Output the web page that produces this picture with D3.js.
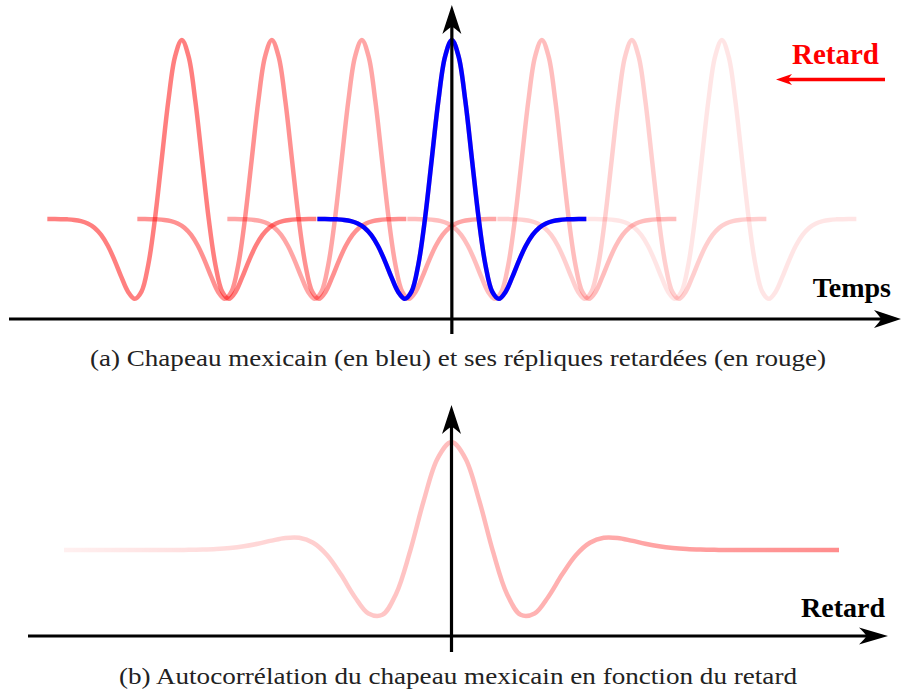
<!DOCTYPE html>
<html>
<head>
<meta charset="utf-8">
<script src="https://cdn.jsdelivr.net/npm/d3@7"></script>
<style>
  html, body { margin: 0; padding: 0; background: #fff; }
  svg { display: block; }
</style>
</head>
<body>
<svg id="chart" width="901" height="693"></svg>
<script>
// ---------- Data ----------
// Mexican hat wavelet sampled at t = 0 .. 5 (step 0.25); function is even
const hatT = [0, 0.25, 0.5, 0.75, 1, 1.25, 1.5, 1.75, 2, 2.25, 2.5, 2.75, 3, 3.25, 3.5, 3.75, 4, 4.25, 4.5, 4.75, 5];
const hatV = [1, 0.9087, 0.6619, 0.3302, 0, -0.2575, -0.4059, -0.4461, -0.4060, -0.3232, -0.2307, -0.1496, -0.0889, -0.0486, -0.0246, -0.01155, -0.0050, -0.00204, -0.00077, -0.00027, -0.00009];

// Replica delays (in multiples of the delay step) and their opacities
const replicaLags = [-3, -2, -1, 0, 1, 2, 3];
const replicaOpacity = [0.5, 0.43, 0.35, 0.3, 0.26, 0.19, 0.1];
const lagStep = 3.346;

// Autocorrelation of the Mexican hat, sampled at u = 0 .. 7 (even function)
const autoU = [0, 0.25, 0.5, 0.75, 1, 1.25, 1.5, 1.75, 2, 2.25, 2.5, 2.75, 3, 3.25, 3.5, 3.75, 4, 4.25, 4.5, 4.75, 5, 5.5, 6, 7];
const autoV = [1, 0.8493, 0.4596, -0.01474, -0.4044, -0.6003, -0.5884, -0.4323, -0.2256, -0.0463, 0.0668, 0.1126, 0.1111, 0.0868, 0.0580, 0.0343, 0.0182, 0.0088, 0.0039, 0.0016, 0.0006, 0.00007, 0, 0];

// Gradient of the autocorrelation curve opacity (left -> right)
const autoOpacityStops = [0.06, 0.26, 0.45];

// Texts
const captionA = "(a) Chapeau mexicain (en bleu) et ses répliques retardées (en rouge)";
const captionB = "(b) Autocorrélation du chapeau mexicain en fonction du retard";
const labelTime = "Temps";
const labelLag = "Retard";

// ---------- Build symmetric point sets ----------
const hatPts = [];
for (let i = hatT.length - 1; i > 0; i--) hatPts.push([-hatT[i], hatV[i]]);
for (let i = 0; i < hatT.length; i++) hatPts.push([hatT[i], hatV[i]]);

const autoPts = [];
for (let i = autoU.length - 1; i > 0; i--) autoPts.push([-autoU[i], autoV[i]]);
for (let i = 0; i < autoU.length; i++) autoPts.push([autoU[i], autoV[i]]);

// ---------- Scales ----------
const svg = d3.select("#chart");

const xTop = d3.scaleLinear().domain([-16.5, 16.66]).range([8, 900]);
const yTop = d3.scaleLinear().domain([0, 1]).range([219, 40]);

const xBot = d3.scaleLinear().domain([-7, 7]).range([64, 839]);
const yBot = d3.scaleLinear().domain([0, 1]).range([550, 442]);

// ---------- Arrow shapes ----------
const defs = svg.append("defs");
function arrowPath(len, hw) {
  return `M0,0 L${-len},${-hw} Q${-len*0.78},${-hw*0.25} ${-len*0.74},0 Q${-len*0.78},${hw*0.25} ${-len},${hw} Z`;
}

// ---------- Top panel ----------
const gTop = svg.append("g");
const hatLine = d3.line().curve(d3.curveCatmullRom.alpha(0.5));

replicaLags.forEach((lag, i) => {
  const shift = lag * lagStep;
  gTop.append("path")
    .attr("d", hatLine(hatPts.map(p => [xTop(p[0] + shift), yTop(p[1])])))
    .attr("fill", "none")
    .attr("stroke", "rgb(255,0,0)")
    .attr("stroke-opacity", replicaOpacity[i])
    .attr("stroke-width", 4.5)
    .attr("stroke-linejoin", "round");
});

gTop.append("path")
  .attr("d", hatLine(hatPts.map(p => [xTop(p[0]), yTop(p[1])])))
  .attr("fill", "none")
  .attr("stroke", "#0000ff")
  .attr("stroke-width", 4.5)
  .attr("stroke-linejoin", "round");

// axes (top)
const axY0 = 319, axX0 = xTop(0);
gTop.append("line").attr("x1", 9).attr("x2", 885).attr("y1", axY0).attr("y2", axY0)
  .attr("stroke", "#000").attr("stroke-width", 3.2);
gTop.append("path").attr("d", arrowPath(27, 9)).attr("transform", `translate(901,${axY0})`).attr("fill", "#000");
gTop.append("line").attr("x1", axX0).attr("x2", axX0).attr("y1", 334).attr("y2", 20)
  .attr("stroke", "#000").attr("stroke-width", 3.2);
gTop.append("path").attr("d", arrowPath(29, 9.5)).attr("transform", `translate(${axX0},5) rotate(-90)`).attr("fill", "#000");

gTop.append("text").attr("x", 891).attr("y", 297)
  .attr("text-anchor", "end")
  .attr("font-family", "'Liberation Serif', 'Times New Roman', serif")
  .attr("font-weight", "bold").attr("font-size", 28)
  .attr("fill", "#000").text(labelTime);

// Retard label and arrow (red)
gTop.append("text").attr("x", 879).attr("y", 64)
  .attr("text-anchor", "end")
  .attr("font-family", "'Liberation Serif', 'Times New Roman', serif")
  .attr("font-weight", "bold").attr("font-size", 29)
  .attr("fill", "#ff0000").text(labelLag);
gTop.append("line").attr("x1", 885).attr("x2", 786).attr("y1", 79.5).attr("y2", 79.5)
  .attr("stroke", "#ff0000").attr("stroke-width", 3.5);
gTop.append("path").attr("d", arrowPath(16, 5.5)).attr("transform", `translate(776,79.5) rotate(180)`).attr("fill", "#ff0000");

svg.append("text").attr("x", 458).attr("y", 366)
  .attr("text-anchor", "middle")
  .attr("font-family", "'Liberation Serif', 'DejaVu Serif', serif")
  .attr("font-size", 23).attr("fill", "#222")
  .attr("textLength", 736).attr("lengthAdjust", "spacingAndGlyphs")
  .text(captionA);

// ---------- Bottom panel ----------
const gBot = svg.append("g");
const grad = defs.append("linearGradient")
  .attr("id", "autoGrad")
  .attr("gradientUnits", "userSpaceOnUse")
  .attr("x1", xBot(-7)).attr("x2", xBot(7)).attr("y1", 0).attr("y2", 0);
autoOpacityStops.forEach((o, i) => {
  grad.append("stop")
    .attr("offset", i / (autoOpacityStops.length - 1))
    .attr("stop-color", "#ff0000")
    .attr("stop-opacity", o);
});

gBot.append("path")
  .attr("d", hatLine(autoPts.map(p => [xBot(p[0]), yBot(p[1])])))
  .attr("fill", "none")
  .attr("stroke", "url(#autoGrad)")
  .attr("stroke-width", 4.5)
  .attr("stroke-linejoin", "round");

const axY1 = 636, axX1 = xBot(0);
gBot.append("line").attr("x1", 28).attr("x2", 872).attr("y1", axY1).attr("y2", axY1)
  .attr("stroke", "#000").attr("stroke-width", 3.2);
gBot.append("path").attr("d", arrowPath(29, 8.5)).attr("transform", `translate(888,${axY1})`).attr("fill", "#000");
gBot.append("line").attr("x1", axX1).attr("x2", axX1).attr("y1", 652).attr("y2", 420)
  .attr("stroke", "#000").attr("stroke-width", 3.2);
gBot.append("path").attr("d", arrowPath(29, 9.5)).attr("transform", `translate(${axX1},405) rotate(-90)`).attr("fill", "#000");

gBot.append("text").attr("x", 885).attr("y", 617)
  .attr("text-anchor", "end")
  .attr("font-family", "'Liberation Serif', 'Times New Roman', serif")
  .attr("font-weight", "bold").attr("font-size", 28)
  .attr("fill", "#000").text(labelLag);

svg.append("text").attr("x", 458).attr("y", 684)
  .attr("text-anchor", "middle")
  .attr("font-family", "'Liberation Serif', 'DejaVu Serif', serif")
  .attr("font-size", 23).attr("fill", "#222")
  .attr("textLength", 678).attr("lengthAdjust", "spacingAndGlyphs")
  .text(captionB);
</script>
</body>
</html>
